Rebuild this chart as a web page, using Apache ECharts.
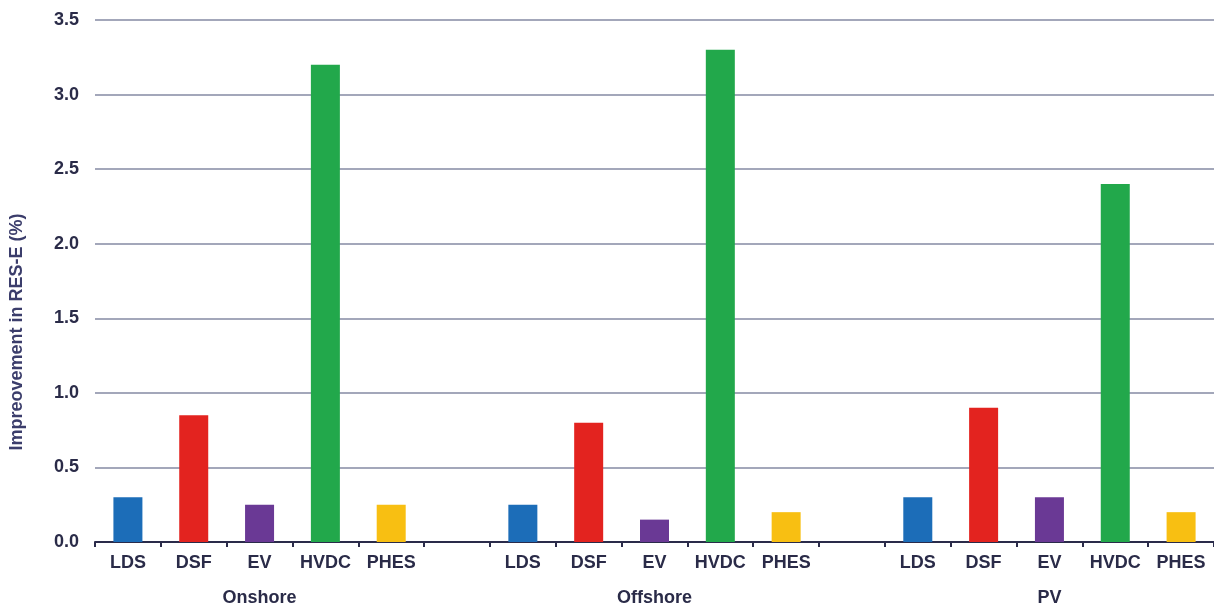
<!DOCTYPE html>
<html>
<head>
<meta charset="utf-8">
<script src="https://cdn.jsdelivr.net/npm/echarts@6/dist/echarts.min.js"></script>
<style>
  html, body { margin: 0; padding: 0; background: #ffffff; }
  #chart { width: 1214px; height: 610px; }
</style>
</head>
<body>
<div id="chart"></div>
<script>
// Technologies compared within each resource group
const technologies = ['LDS', 'DSF', 'EV', 'HVDC', 'PHES'];
const groups = ['Onshore', 'Offshore', 'PV'];

// Improvement in RES-E share (%) per technology
const onshore = [0.30, 0.85, 0.25, 3.20, 0.25];
const offshore = [0.25, 0.80, 0.15, 3.30, 0.20];
const pv = [0.30, 0.90, 0.30, 2.40, 0.20];

const techColors = ['#1c6db8', '#e3231f', '#6a3995', '#22a84b', '#f8bf12'];
const yTicks = { min: 0, max: 3.5, interval: 0.5 };

// Build the flat category list: three groups separated by an empty slot
const groupValues = [onshore, offshore, pv];
const categories = [];
const barData = [];
const groupLabelAt = {};
groupValues.forEach((vals, g) => {
  if (g > 0) {
    categories.push('');
    barData.push('-');
  }
  const start = categories.length;
  vals.forEach((v, i) => {
    categories.push(technologies[i]);
    barData.push({ value: v, itemStyle: { color: techColors[i] } });
  });
  groupLabelAt[start + 2] = groups[g];
});

const textColor = '#2a2b48';
const font = 'Liberation Sans, Arial, sans-serif';

const chart = echarts.init(document.getElementById('chart'));
chart.setOption({
  animation: false,
  backgroundColor: '#ffffff',
  grid: { left: 95, right: 0, top: 20, bottom: 68, containLabel: false },
  xAxis: [
    {
      type: 'category',
      data: categories,
      boundaryGap: true,
      axisLine: { show: true, lineStyle: { color: '#2a2b4a', width: 2 } },
      axisTick: { show: true, interval: 0, alignWithLabel: false, length: 5, lineStyle: { color: '#2a2b4a', width: 2 } },
      axisLabel: {
        interval: 0, margin: 12,
        color: textColor, fontFamily: font, fontWeight: 'bold', fontSize: 18
      },
      splitLine: { show: false }
    },
    {
      type: 'category',
      data: categories,
      position: 'bottom',
      offset: 0,
      boundaryGap: true,
      axisLine: { show: false },
      axisTick: { show: false },
      axisLabel: {
        interval: 0, margin: 47,
        color: textColor, fontFamily: font, fontWeight: 'bold', fontSize: 18,
        formatter: (v, idx) => groupLabelAt[idx] || ''
      }
    }
  ],
  yAxis: {
    type: 'value',
    min: yTicks.min, max: yTicks.max, interval: yTicks.interval,
    name: 'Impreovement in RES-E (%)',
    nameLocation: 'middle',
    nameGap: 69,
    nameTextStyle: {
      color: '#3b3d6b', fontFamily: font, fontWeight: 'bold', fontSize: 18,
      padding: [0, 102, 0, 0]
    },
    axisLine: { show: false },
    axisTick: { show: false },
    axisLabel: {
      margin: 16,
      color: textColor, fontFamily: font, fontWeight: 'bold', fontSize: 18,
      formatter: v => v.toFixed(1)
    },
    splitLine: { show: true, lineStyle: { color: '#858aa3', width: 1.5 } }
  },
  series: [
    {
      type: 'bar',
      xAxisIndex: 0,
      data: barData,
      barWidth: 29
    }
  ]
});
</script>
</body>
</html>
